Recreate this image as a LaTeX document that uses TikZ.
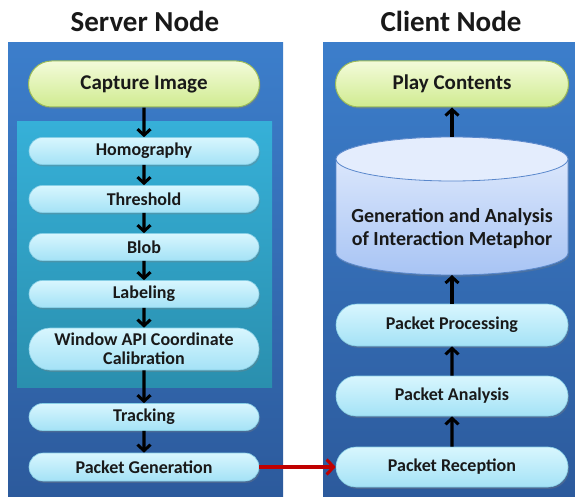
\documentclass[tikz,border=0pt]{standalone}
\usepackage{fontspec}
\setmainfont{Carlito}
\usetikzlibrary{arrows.meta,shapes.misc,shadows}
\definecolor{paneltop}{HTML}{3C7ECB}
\definecolor{panelbot}{HTML}{2C5A9C}
\definecolor{tealtop}{HTML}{36B0D8}
\definecolor{tealbot}{HTML}{2A8FAE}
\definecolor{boxtop}{HTML}{D8F6FE}
\definecolor{boxbot}{HTML}{A4E2F6}
\definecolor{boxline}{HTML}{86CFE6}
\definecolor{grtop}{HTML}{F3FBDA}
\definecolor{grbot}{HTML}{D0EB90}
\definecolor{grline}{HTML}{9BBB59}
\definecolor{cyltop}{HTML}{E4EDFD}
\definecolor{cylbot}{HTML}{A8C4F4}
\definecolor{cylline}{HTML}{5A88CC}
\definecolor{arrred}{HTML}{C00000}
\begin{document}
\begin{tikzpicture}[x=1pt,y=-1pt,
  panel/.style={top color=paneltop,bottom color=panelbot,draw=none},
  tealbox/.style={top color=tealtop,bottom color=tealbot,draw=none},
  stepbox/.style={rounded rectangle,minimum width=230pt,minimum height=27pt,inner sep=0pt,
    top color=boxtop,bottom color=boxbot,draw=boxline,line width=0.6pt,
    drop shadow={opacity=0.35,shadow xshift=1.2pt,shadow yshift=-1.8pt},
    font=\bfseries\fontsize{18}{19}\selectfont,align=center,text=black!90},
  greenbox/.style={rounded rectangle,minimum width=231pt,minimum height=46pt,inner sep=0pt,
    top color=grtop,bottom color=grbot,draw=grline,line width=1pt,
    drop shadow={opacity=0.35,shadow xshift=1.2pt,shadow yshift=-1.8pt},
    font=\bfseries\fontsize{21}{22}\selectfont,text=black!90},
  title/.style={font=\bfseries\fontsize{29}{30}\selectfont,text=black!90},
  arr/.style={line width=3.4pt,-{Straight Barb[length=6pt,width=13pt,line width=3pt]}},
  redarr/.style={line width=3.2pt,draw=arrred,-{Straight Barb[length=7pt,width=15pt,line width=3pt]}}
]
\useasboundingbox (0,0) rectangle (575,497);
% titles
\node[title] (tsrv) at (145,21) {Server Node};
\node[title] (tcli) at (451,21) {Client Node};
% panels
\fill[panel] (8,43) rectangle (283,500);
\fill[panel] (323,43) rectangle (578,500);
\fill[tealbox] (17,122) rectangle (272,387);
% left column
\node[greenbox] (cap) at (144,84) {Capture Image};
\node[stepbox] (homo) at (144,151) {Homography};
\node[stepbox] (thr) at (144,199) {Threshold};
\node[stepbox] (blob) at (144,247) {Blob};
\node[stepbox] (lab) at (144,294) {Labeling};
\node[stepbox,minimum height=42pt] (win) at (144,349) {Window API Coordinate\\Calibration};
\node[stepbox] (trk) at (144,417) {Tracking};
\node[stepbox,minimum height=28pt] (pgen) at (144,467) {Packet Generation};
% right column
\node[greenbox,minimum width=233pt] (play) at (452,84) {Play Contents};
\path[top color=cyltop,bottom color=cylbot,draw=cylline,line width=0.8pt,
  drop shadow={opacity=0.3,shadow xshift=1.2pt,shadow yshift=-1.8pt}]
  (336,159) -- (336,253) arc (180:360:116pt and 22pt) -- (568,159) arc (0:180:116pt and 22pt) -- cycle;
\path[fill=cyltop,draw=cylline,line width=0.8pt] (452,159) ellipse (116pt and 22pt);
\coordinate (cyltopc) at (452,137);
\coordinate (cylbotc) at (452,275);
\node[font=\bfseries\fontsize{20}{23}\selectfont,align=center,text=black!90] (cyltxt) at (452,229)
  {Generation and Analysis\\of Interaction Metaphor};
\node[stepbox,minimum width=232pt,minimum height=42pt] (proc) at (452,325) {Packet Processing};
\node[stepbox,minimum width=232pt,minimum height=40pt] (anal) at (452,396) {Packet Analysis};
\node[stepbox,minimum width=232pt,minimum height=40pt] (recp) at (452,467) {Packet Reception};
% arrows left
\draw[arr] (cap) -- (homo);
\draw[arr] (homo) -- (thr);
\draw[arr] (thr) -- (blob);
\draw[arr] (blob) -- (lab);
\draw[arr] (lab) -- (win);
\draw[arr] (win) -- (trk);
\draw[arr] (trk) -- (pgen);
% arrows right
\draw[arr] (recp) -- (anal);
\draw[arr] (anal) -- (proc);
\draw[arr] (proc) -- (cylbotc);
\draw[arr] (cyltopc) -- (play);
% link
\draw[redarr] (pgen.east) -- (recp.west);
\end{tikzpicture}
\end{document}
